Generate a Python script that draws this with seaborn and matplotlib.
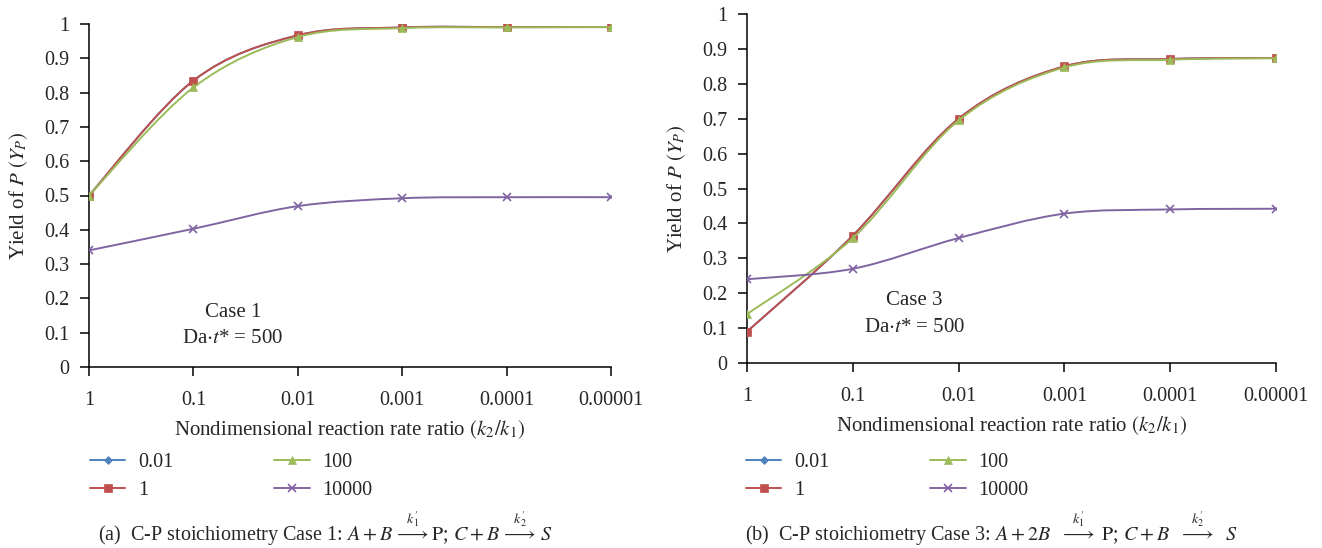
import numpy as np
import pandas as pd
import matplotlib
matplotlib.use("Agg")
import matplotlib.pyplot as plt
import seaborn as sns
from matplotlib.path import Path
from matplotlib.patches import PathPatch
from matplotlib.lines import Line2D

# ---------------- data ----------------
x_labels = ["1", "0.1", "0.01", "0.001", "0.0001", "0.00001"]
series_names = ["0.01", "1", "100", "10000"]

case1_s001 = [0.500, 0.835, 0.967, 0.990, 0.991, 0.991]
case1_s1 = [0.500, 0.835, 0.967, 0.990, 0.991, 0.991]
case1_s100 = [0.500, 0.815, 0.962, 0.988, 0.990, 0.991]
case1_s10000 = [0.340, 0.403, 0.469, 0.492, 0.495, 0.495]

case3_s001 = [0.090, 0.365, 0.700, 0.850, 0.871, 0.874]
case3_s1 = [0.090, 0.365, 0.700, 0.850, 0.871, 0.874]
case3_s100 = [0.140, 0.358, 0.695, 0.847, 0.869, 0.873]
case3_s10000 = [0.240, 0.270, 0.358, 0.428, 0.440, 0.442]

y_tick_labels = ["0", "0.1", "0.2", "0.3", "0.4", "0.5", "0.6", "0.7", "0.8", "0.9", "1"]

colors = ["#4F81BD", "#C0504D", "#9BBB59", "#8064A2"]
markers = ["D", "s", "^", "x"]
msizes = [4.5, 5.5, 5.5, 6.0]

sns.set_theme(style="white")
plt.rcParams["font.family"] = ["Liberation Serif", "DejaVu Serif"]
plt.rcParams["mathtext.fontset"] = "stix"

FS = 14.5


def smooth_path(xs, ys):
    pts = np.column_stack([xs, ys]).astype(float)
    n = len(pts)
    verts = [pts[0]]
    codes = [Path.MOVETO]
    for i in range(n - 1):
        p0 = pts[i - 1] if i > 0 else pts[i]
        p1 = pts[i]
        p2 = pts[i + 1]
        p3 = pts[i + 2] if i + 2 < n else pts[i + 1]
        c1 = p1 + (p2 - p0) / 6.0
        c2 = p2 - (p3 - p1) / 6.0
        verts += [c1, c2, p2]
        codes += [Path.CURVE4] * 3
    return Path(verts, codes)


def draw(ax, data):
    xs = np.arange(len(x_labels))
    rows = []
    for name, vals in zip(series_names, data):
        for xi, v in zip(xs, vals):
            rows.append({"x": xi, "y": v, "series": name})
    df = pd.DataFrame(rows)
    for k, name in enumerate(series_names):
        sub = df[df["series"] == name]
        patch = PathPatch(smooth_path(sub["x"].values, sub["y"].values),
                          facecolor="none", edgecolor=colors[k], lw=1.4, zorder=2 + k)
        ax.add_patch(patch)
        sns.lineplot(data=sub, x="x", y="y", ax=ax, color=colors[k], linestyle="none",
                     marker=markers[k], markersize=msizes[k], markeredgecolor=colors[k],
                     markeredgewidth=1.2 if markers[k] == "x" else 0.5, zorder=3 + k,
                     legend=False)
    ax.set_xlim(0, len(x_labels) - 1)
    ax.set_ylim(0, 1)
    ax.set_xticks(xs)
    ax.set_xticklabels(x_labels, fontsize=FS)
    ax.set_yticks(np.linspace(0, 1, 11))
    ax.set_yticklabels(y_tick_labels, fontsize=FS)
    ax.set_xlabel(r"Nondimensional reaction rate ratio $(k_2/k_1)$", fontsize=15, labelpad=6)
    ax.set_ylabel(r"Yield of $P$ $(Y_P)$", fontsize=15, labelpad=10)
    for s in ["top", "right"]:
        ax.spines[s].set_visible(False)
    for s in ["left", "bottom"]:
        ax.spines[s].set_color("black")
        ax.spines[s].set_linewidth(1.1)
    ax.tick_params(axis="both", direction="out", length=6.5, width=1.1, color="black",
                   left=True, bottom=True, pad=7.5)
    ax.tick_params(axis="x", pad=10.5)
    ax.grid(False)


fig = plt.figure(figsize=(13.22, 5.48), dpi=100)
ax1 = fig.add_axes([89 / 1322, 1 - 367 / 548, 522 / 1322, 343 / 548])
ax2 = fig.add_axes([747 / 1322, 1 - 363 / 548, 529 / 1322, 349 / 548])

draw(ax1, [case1_s001, case1_s1, case1_s100, case1_s10000])
draw(ax2, [case3_s001, case3_s1, case3_s100, case3_s10000])

ax1.text(1.38, 0.158, "Case 1", ha="center", va="center", fontsize=15)
ax1.text(1.38, 0.082, r"Da$\cdot t$* = 500", ha="center", va="center", fontsize=15)
ax2.text(1.58, 0.179, "Case 3", ha="center", va="center", fontsize=15)
ax2.text(1.58, 0.103, r"Da$\cdot t$* = 500", ha="center", va="center", fontsize=15)

handles = [Line2D([0], [0], color=colors[k], lw=1.4, marker=markers[k], markersize=msizes[k],
                  markeredgewidth=1.2 if markers[k] == "x" else 0.5)
           for k in range(4)]
for xpos, ypos in [(90 / 1322, 1 - 453 / 548), (746 / 1322, 1 - 453 / 548)]:
    fig.legend(handles, series_names, loc="upper left", bbox_to_anchor=(xpos, ypos),
               ncol=2, frameon=False, fontsize=FS, handlelength=1.75, columnspacing=5.0,
               labelspacing=0.42, borderpad=0, borderaxespad=0, handletextpad=0.65)

fig.text(98 / 1322, 1 - 529 / 548,
         r"(a)  C-P stoichiometry Case 1: $A + B\,\overset{k^{\prime}_1}{\longrightarrow}\mathrm{P}$; $C + B\,\overset{k^{\prime}_2}{\longrightarrow}\,S$",
         ha="left", va="center", fontsize=14.5)
fig.text(745 / 1322, 1 - 529 / 548,
         r"(b)  C-P stoichiometry Case 3: $A + 2B\ \ \overset{k^{\prime}_1}{\longrightarrow}\ \mathrm{P}$; $C + B\ \ \overset{k^{\prime}_2}{\longrightarrow}\ \ S$",
         ha="left", va="center", fontsize=14.5)

fig.savefig("out.png", dpi=100)
